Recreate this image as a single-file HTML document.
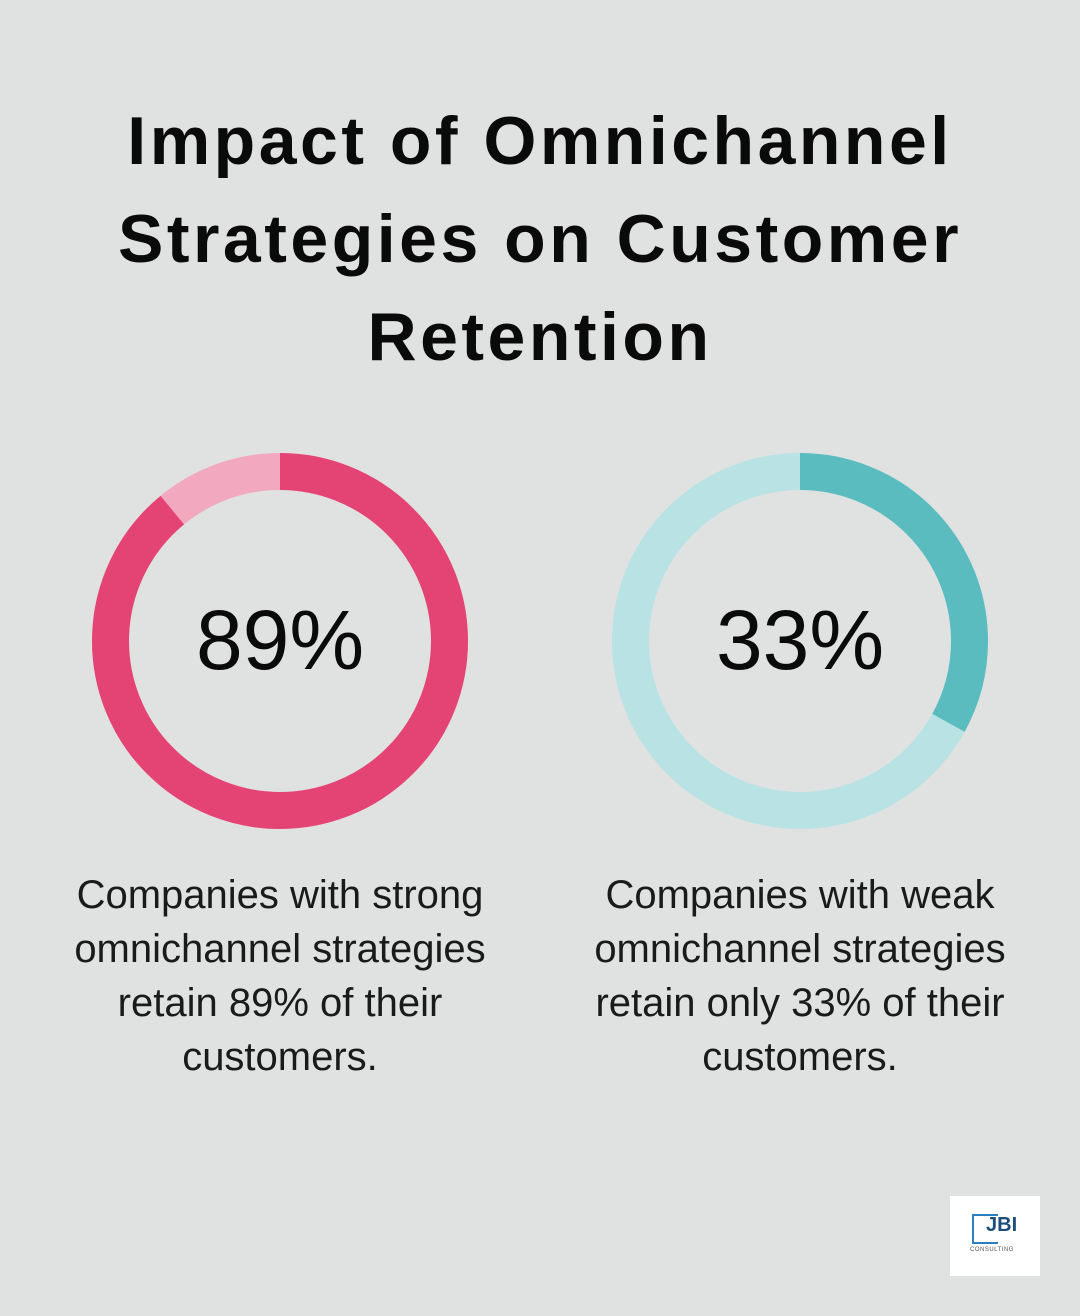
<!DOCTYPE html>
<html><head><style>
html,body{margin:0;padding:0}
body{width:1080px;height:1316px;background:#e0e2e1;position:relative;font-family:"Liberation Sans",sans-serif;overflow:hidden}
h1{position:absolute;top:92px;left:0;width:1080px;margin:0;text-align:center;font-size:68px;line-height:98px;font-weight:bold;color:#0a0a0a;letter-spacing:3.5px}
.pct{position:absolute;top:590px;width:360px;text-align:center;font-size:84px;line-height:100px;color:#0a0a0a}
.desc{position:absolute;top:868px;width:480px;text-align:center;font-size:40px;line-height:54px;color:#1a1a1a;font-weight:300}
.logo{position:absolute;left:950px;top:1196px;width:90px;height:80px;background:#fff}
</style></head><body>
<h1>Impact of Omnichannel<br>Strategies on Customer<br>Retention</h1>
<svg width="1080" height="1316" style="position:absolute;left:0;top:0">
<circle cx="280" cy="641" r="169.5" fill="none" stroke="#f2a8bf" stroke-width="37"/>
<circle cx="280" cy="641" r="169.5" fill="none" stroke="#e44473" stroke-width="37" stroke-dasharray="947.9 2000" transform="rotate(-90 280 641)"/>
<circle cx="800" cy="641" r="169.5" fill="none" stroke="#b8e2e3" stroke-width="37"/>
<circle cx="800" cy="641" r="169.5" fill="none" stroke="#5bbcc0" stroke-width="37" stroke-dasharray="351.5 2000" transform="rotate(-90 800 641)"/>
</svg>
<div class="pct" style="left:100px">89%</div>
<div class="pct" style="left:620px">33%</div>
<div class="desc" style="left:40px">Companies with strong omnichannel strategies retain 89% of their customers.</div>
<div class="desc" style="left:560px">Companies with weak omnichannel strategies retain only 33% of their customers.</div>
<div class="logo">
<div style="position:absolute;left:22px;top:18px;width:24px;height:26px;border:2px solid #2a7fc0;border-right:none"></div>
<div style="position:absolute;left:36px;top:18px;font-size:20px;font-weight:bold;color:#1d4f7a">JBI</div>
<div style="position:absolute;left:20px;top:51px;font-size:6px;color:#555;letter-spacing:0.5px">CONSULTING</div>
</div>
</body></html>
